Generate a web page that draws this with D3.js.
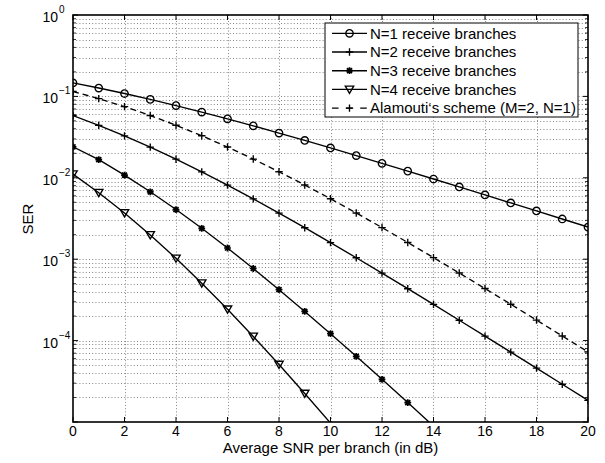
<!DOCTYPE html>
<html>
<head>
<meta charset="utf-8">
<script src="https://cdn.jsdelivr.net/npm/d3@7"></script>
<style>
  body { margin: 0; background: #fff; }
  svg { display: block; font-family: "Liberation Sans", Arial, Helvetica, sans-serif; }
</style>
</head>
<body>
<script>
// average SNR per branch (dB)
const snrDb = [0, 1, 2, 3, 4, 5, 6, 7, 8, 9, 10, 11, 12, 13, 14, 15, 16, 17, 18, 19, 20];

// symbol error rate
const serN1 = [0.1464, 0.1267, 0.1085, 0.09192, 0.07714, 0.06418, 0.05300, 0.04348, 0.03546, 0.02878,
  0.02327, 0.01875, 0.01507, 0.01208, 0.009665, 0.007723, 0.006164, 0.004915, 0.003916, 0.003118, 0.002481];
const serN2 = [0.05806, 0.04411, 0.03275, 0.02379, 0.01693, 0.01183, 0.008129, 0.005506, 0.003683, 0.002437,
  0.001599, 0.001041, 6.740e-4, 4.341e-4, 2.784e-4, 1.780e-4, 1.135e-4, 7.223e-5, 4.588e-5, 2.911e-5, 1.844e-5];
const serN3 = [0.02400, 0.01668, 0.01078, 0.006734, 0.004075, 0.002396, 0.001373, 7.691e-4, 4.225e-4, 2.282e-4,
  1.216e-4, 6.407e-5, 3.342e-5, 1.730e-5, 8.898e-6, 4.553e-6, 2.32e-6, 1.178e-6, 5.97e-7, 3.02e-7, 1.52e-7];
const serN4 = [0.01110, 0.006563, 0.003696, 0.001988, 0.001024, 5.072e-4, 2.426e-4, 1.125e-4, 5.077e-5, 2.239e-5,
  9.699e-6, 4.133e-6, 1.738e-6, 7.235e-7, 2.983e-7, 1.22e-7, 4.98e-8, 2.02e-8, 8.16e-9, 3.28e-9, 1.32e-9];
const serAlamouti = [0.1151, 0.09388, 0.07481, 0.05822, 0.04424, 0.03286, 0.02387, 0.01699, 0.01187, 0.008161,
  0.005528, 0.003698, 0.002448, 0.001606, 0.001046, 6.770e-4, 4.360e-4, 2.797e-4, 1.788e-4, 1.140e-4, 7.257e-5];

const legendNames = [
  "N=1 receive branches",
  "N=2 receive branches",
  "N=3 receive branches",
  "N=4 receive branches",
  "Alamouti\u2018s scheme (M=2, N=1)"
];
const markerTypes = ["circle", "plus", "star", "tri", "plus"];
const dashed = [false, false, false, false, true];

const xTicks = [0, 2, 4, 6, 8, 10, 12, 14, 16, 18, 20];
const yDecadeExps = [-5, -4, -3, -2, -1, 0];
const yLabelExps = [0, -1, -2, -3, -4];   // the 10^-5 tick carries no label

const width = 605, height = 463;
const margin = {left: 73, right: 17, top: 15, bottom: 41};

const seriesList = [serN1, serN2, serN3, serN4, serAlamouti].map((v, i) => ({
  name: legendNames[i],
  marker: markerTypes[i],
  dashed: dashed[i],
  points: snrDb.map((x, j) => ({x, y: v[j]}))
}));

const x = d3.scaleLinear()
    .domain([0, 20])
    .range([margin.left, width - margin.right]);
const y = d3.scaleLog()
    .domain([1e-5, 1])
    .range([height - margin.bottom, margin.top]);

const x0 = x.range()[0], x1 = x.range()[1];
const y0 = y.range()[0], y1 = y.range()[1];

function markerPath(type) {
  const p = d3.path();
  if (type === "plus") {
    p.moveTo(-3.7, 0); p.lineTo(3.7, 0);
    p.moveTo(0, -3.7); p.lineTo(0, 3.7);
  } else if (type === "star") {
    const r = 3.4, d = 2.5;
    p.moveTo(-r, 0); p.lineTo(r, 0);
    p.moveTo(0, -r); p.lineTo(0, r);
    p.moveTo(-d, -d); p.lineTo(d, d);
    p.moveTo(-d, d); p.lineTo(d, -d);
  } else if (type === "tri") {
    p.moveTo(-4.2, -3.3); p.lineTo(4.2, -3.3); p.lineTo(0, 3.9); p.closePath();
  } else {
    p.arc(0, 0, 3.7, 0, 2 * Math.PI);
  }
  return p.toString();
}
const markerWidth = t => t === "star" ? 1.7 : 1.35;

const svg = d3.select("body")
  .append("svg")
    .attr("width", width)
    .attr("height", height)
    .attr("viewBox", [0, 0, width, height]);

svg.append("defs").append("clipPath")
    .attr("id", "plot-clip")
  .append("rect")
    .attr("x", x0).attr("y", y1)
    .attr("width", x1 - x0).attr("height", y0 - y1);

// grid: dotted, major + minor on log axis, majors on x
const minorY = [];
yDecadeExps.slice(0, -1).forEach(e => {
  for (let k = 2; k <= 9; k++) minorY.push(k * Math.pow(10, e));
});
const majorY = yDecadeExps.slice(1, -1).map(e => Math.pow(10, e));

const grid = svg.append("g")
    .attr("stroke", "#666")
    .attr("stroke-width", 0.8)
    .attr("stroke-dasharray", "1,2.2")
    .attr("fill", "none");

grid.selectAll("line.gy")
  .data(minorY.concat(majorY))
  .join("line")
    .attr("class", "gy")
    .attr("x1", x0).attr("x2", x1)
    .attr("y1", d => Math.round(y(d)) + 0.5)
    .attr("y2", d => Math.round(y(d)) + 0.5);

grid.selectAll("line.gx")
  .data(xTicks.slice(1, -1))
  .join("line")
    .attr("class", "gx")
    .attr("y1", y0).attr("y2", y1)
    .attr("x1", d => Math.round(x(d)) + 0.5)
    .attr("x2", d => Math.round(x(d)) + 0.5);

// data lines and markers
const line = d3.line()
    .x(d => x(d.x))
    .y(d => y(d.y));

const plot = svg.append("g").attr("clip-path", "url(#plot-clip)");

plot.selectAll("path.series")
  .data(seriesList)
  .join("path")
    .attr("class", "series")
    .attr("fill", "none")
    .attr("stroke", "#000")
    .attr("stroke-width", 1.35)
    .attr("stroke-dasharray", d => d.dashed ? "6,4" : null)
    .attr("d", d => line(d.points));

seriesList.forEach(s => {
  plot.append("g")
    .selectAll("path")
    .data(s.points.filter(p => p.y >= 1e-5))
    .join("path")
      .attr("transform", d => `translate(${x(d.x)},${y(d.y)})`)
      .attr("d", markerPath(s.marker))
      .attr("fill", "none")
      .attr("stroke", "#000")
      .attr("stroke-width", markerWidth(s.marker));
});

// axes box + inward ticks
const axes = svg.append("g")
    .attr("stroke", "#000")
    .attr("fill", "none");

axes.append("rect")
    .attr("x", x0).attr("y", y1)
    .attr("width", x1 - x0).attr("height", y0 - y1)
    .attr("stroke-width", 1.6);

const tickLen = 5, minorLen = 3;
axes.selectAll("path.xt")
  .data(xTicks)
  .join("path")
    .attr("class", "xt")
    .attr("stroke-width", 1)
    .attr("d", d => `M${x(d)},${y0}v${-tickLen}M${x(d)},${y1}v${tickLen}`);

axes.selectAll("path.yt")
  .data(yDecadeExps.map(e => Math.pow(10, e)))
  .join("path")
    .attr("class", "yt")
    .attr("stroke-width", 1)
    .attr("d", d => `M${x0},${y(d)}h${tickLen}M${x1},${y(d)}h${-tickLen}`);

axes.selectAll("path.ym")
  .data(minorY)
  .join("path")
    .attr("class", "ym")
    .attr("stroke-width", 0.8)
    .attr("d", d => `M${x0},${y(d)}h${minorLen}M${x1},${y(d)}h${-minorLen}`);

// tick labels
svg.append("g")
    .attr("font-size", 14)
    .attr("text-anchor", "middle")
  .selectAll("text")
  .data(xTicks)
  .join("text")
    .attr("x", d => x(d))
    .attr("y", y0 + 14)
    .text(d => d);

const yLab = svg.append("g").attr("font-size", 14);
yLabelExps.forEach(e => {
  const ty = y(Math.pow(10, e));
  yLab.append("text")
      .attr("x", 58).attr("y", ty + 7)
      .attr("text-anchor", "end")
      .text("10");
  yLab.append("text")
      .attr("x", 59).attr("y", ty - 2)
      .attr("font-size", 10)
      .text(String(e).replace("-", "\u2212"));
});

// axis titles
svg.append("text")
    .attr("x", (x0 + x1) / 2)
    .attr("y", 453)
    .attr("text-anchor", "middle")
    .attr("font-size", 15)
    .text("Average SNR per branch (in dB)");

svg.append("text")
    .attr("transform", "translate(33,219) rotate(-90)")
    .attr("text-anchor", "middle")
    .attr("font-size", 15)
    .text("SER");

// legend
const lg = svg.append("g").attr("transform", "translate(325,23)");
lg.append("rect")
    .attr("width", 253).attr("height", 94)
    .attr("fill", "#fff")
    .attr("stroke", "#000")
    .attr("stroke-width", 1);

const rows = lg.selectAll("g.row")
  .data(seriesList)
  .join("g")
    .attr("class", "row")
    .attr("transform", (d, i) => `translate(0,${10.3 + i * 18.7})`);

rows.append("line")
    .attr("x1", 7).attr("x2", 42)
    .attr("stroke", "#000")
    .attr("stroke-width", 1.35)
    .attr("stroke-dasharray", d => d.dashed ? "6.6,7.5" : null);

rows.append("path")
    .attr("transform", "translate(24.5,0)")
    .attr("d", d => markerPath(d.marker))
    .attr("fill", "none")
    .attr("stroke", "#000")
    .attr("stroke-width", d => markerWidth(d.marker));

rows.append("text")
    .attr("x", 45)
    .attr("y", 5.3)
    .attr("font-size", 15)
    .text(d => d.name);
</script>
</body>
</html>
